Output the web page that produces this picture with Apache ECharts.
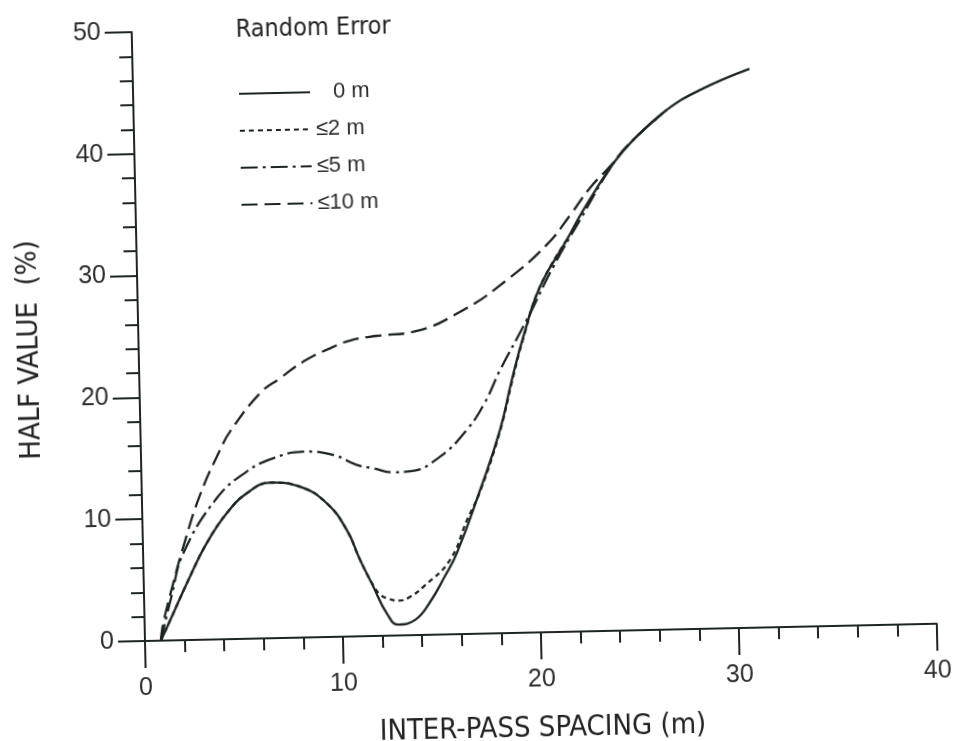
<!DOCTYPE html>
<html>
<head>
<meta charset="utf-8">
<title>Half value vs inter-pass spacing</title>
<script src="https://cdn.jsdelivr.net/npm/echarts@6/dist/echarts.min.js"></script>
<style>
  html, body { margin: 0; padding: 0; background: #ffffff; overflow: hidden; width: 957px; height: 741px; }
  /* the printed figure sits slightly rotated on the page */
  #chart { position: absolute; left: 0; top: 0; width: 1000px; height: 790px;
           transform-origin: 145px 641px; transform: rotate(-1.25deg); }
</style>
</head>
<body>
<div id="chart"></div>
<script>
// Axis ticks
const xTicks = [0, 10, 20, 30, 40];
const yTicks = [0, 10, 20, 30, 40, 50];

// Legend entries (random positioning error)
const errorLabels = ['0 m', '\u22642 m', '\u22645 m', '\u226410 m'];

// Half value (%) against inter-pass spacing (m), one list per error level
const errNone = [[0.8,0],[1.46,2.22],[2.34,5.2],[3.22,7.91],[4.27,10.34],[5.3,11.94],[6.49,12.77],[8.0,12.39],[9.33,10.98],[10.31,8.75],[10.95,6.27],[11.59,4.05],[12.24,1.84],[12.8,0.9],[13.66,1.24],[14.44,2.69],[15.22,4.8],[15.84,6.64],[17.09,11.8],[18.16,16.69],[18.81,20.77],[19.44,24.31],[20.34,28.38],[21.74,32.17],[22.61,34.6],[24.18,38.38],[25.21,40.26],[26.93,42.66],[28.64,44.24],[31.15,45.88]];
const err2 = [[0.8,0],[1.46,2.22],[2.34,5.2],[3.22,7.91],[4.27,10.34],[5.3,11.94],[6.49,12.77],[8.0,12.39],[9.33,10.98],[10.31,8.75],[10.95,6.27],[11.59,4.15],[11.92,3.4],[12.4,3.0],[12.9,2.86],[13.44,3.16],[14.12,3.96],[15.49,6.1],[16.38,9.3],[17.09,11.7],[18.16,16.6],[18.81,20.6],[19.44,24.2],[20.34,28.38],[21.74,32.17]];
const err5 = [[0.8,0],[1.4,3.7],[2.03,7.13],[3.78,11.59],[5.32,13.72],[6.68,14.77],[8.2,15.26],[9.72,14.93],[10.89,14.07],[11.72,13.77],[12.73,13.4],[13.57,13.45],[15.1,14.6],[16.48,16.75],[17.4,18.9],[18.23,21.61],[19.63,25.67],[21.03,30.0],[22.43,33.79],[24.18,38.38],[25.21,40.26],[26.93,42.66]];
const err10 = [[0.8,0],[0.94,1.42],[1.49,4.69],[2.04,7.67],[2.94,11.89],[4.0,15.55],[4.52,17.03],[6.08,20.13],[7.11,21.33],[8.3,22.65],[9.67,23.7],[10.69,24.3],[12.04,24.63],[13.89,24.9],[16.44,26.6],[18.67,28.99],[20.72,31.8],[21.94,34.2],[22.97,36.4],[23.92,37.98],[25.21,40.26],[26.93,42.66]];

const seriesData = [errNone, err2, err5, err10];

const INK = '#1d2522';
const TEXT = '#2e2e2e';
const SANS = "'Liberation Sans', Arial, sans-serif";
const NARROW = "'Liberation Sans Narrow', 'DejaVu Sans Condensed', 'Roboto Condensed', 'Liberation Sans', sans-serif";

const dashes = ['solid', [5, 4], [17, 5, 3, 5], [16, 7]];
const zLevels = [6, 5, 4, 3];

const chart = echarts.init(document.getElementById('chart'), null, { renderer: 'canvas' });

chart.setOption({
  animation: false,
  backgroundColor: 'transparent',
  title: {
    text: 'Random Error',
    left: 244,
    top: 15,
    textStyle: { fontFamily: NARROW, fontSize: 25, fontWeight: 'normal', color: '#222' }
  },
  legend: {
    orient: 'vertical',
    left: 245,
    top: 80,
    itemWidth: 71,
    itemHeight: 20,
    itemGap: 15,
    itemStyle: { opacity: 0 },
    textStyle: { fontFamily: SANS, fontSize: 22, color: TEXT,
                 rich: { pad: { width: 18 } } },
    formatter: function (name) { return name === errorLabels[0] ? '{pad|}' + name : name; },
    data: errorLabels.map(function (n, i) {
      return { name: n, lineStyle: { color: INK, width: 2, type: dashes[i] } };
    })
  },
  grid: { left: 145, top: 32, width: 792, height: 609 },
  xAxis: {
    type: 'value',
    min: xTicks[0],
    max: xTicks[xTicks.length - 1],
    interval: 10,
    name: 'INTER-PASS SPACING (m)',
    nameLocation: 'middle',
    nameGap: 82,
    nameTextStyle: { fontFamily: NARROW, fontSize: 29, color: '#222' },
    axisLine: { show: true, lineStyle: { color: INK, width: 2 } },
    axisTick: { show: true, inside: false, length: 27, lineStyle: { color: INK, width: 2 } },
    minorTick: { show: true, splitNumber: 5, length: 12, lineStyle: { color: INK, width: 2 } },
    axisLabel: { margin: 35, fontFamily: SANS, fontSize: 25, color: TEXT },
    splitLine: { show: false },
    minorSplitLine: { show: false }
  },
  yAxis: {
    type: 'value',
    min: yTicks[0],
    max: yTicks[yTicks.length - 1],
    interval: 10,
    name: 'HALF VALUE  (%)',
    nameLocation: 'middle',
    nameGap: 94,
    nameRotate: 90,
    nameTextStyle: { fontFamily: NARROW, fontSize: 29, color: '#222', padding: [0, 22, 0, 0] },
    axisLine: { show: true, lineStyle: { color: INK, width: 2 } },
    axisTick: { show: true, inside: false, length: 27, lineStyle: { color: INK, width: 2 } },
    minorTick: { show: true, splitNumber: 5, length: 13, lineStyle: { color: INK, width: 2 } },
    axisLabel: { margin: 31, fontFamily: SANS, fontSize: 25, color: TEXT },
    splitLine: { show: false },
    minorSplitLine: { show: false }
  },
  series: errorLabels.map(function (n, i) {
    return {
      name: n,
      type: 'line',
      data: seriesData[i],
      smooth: 0.45,
      symbol: 'none',
      showSymbol: false,
      z: zLevels[i],
      lineStyle: { color: INK, width: 2.3, type: dashes[i] },
      itemStyle: { color: INK }
    };
  })
});
</script>
</body>
</html>
